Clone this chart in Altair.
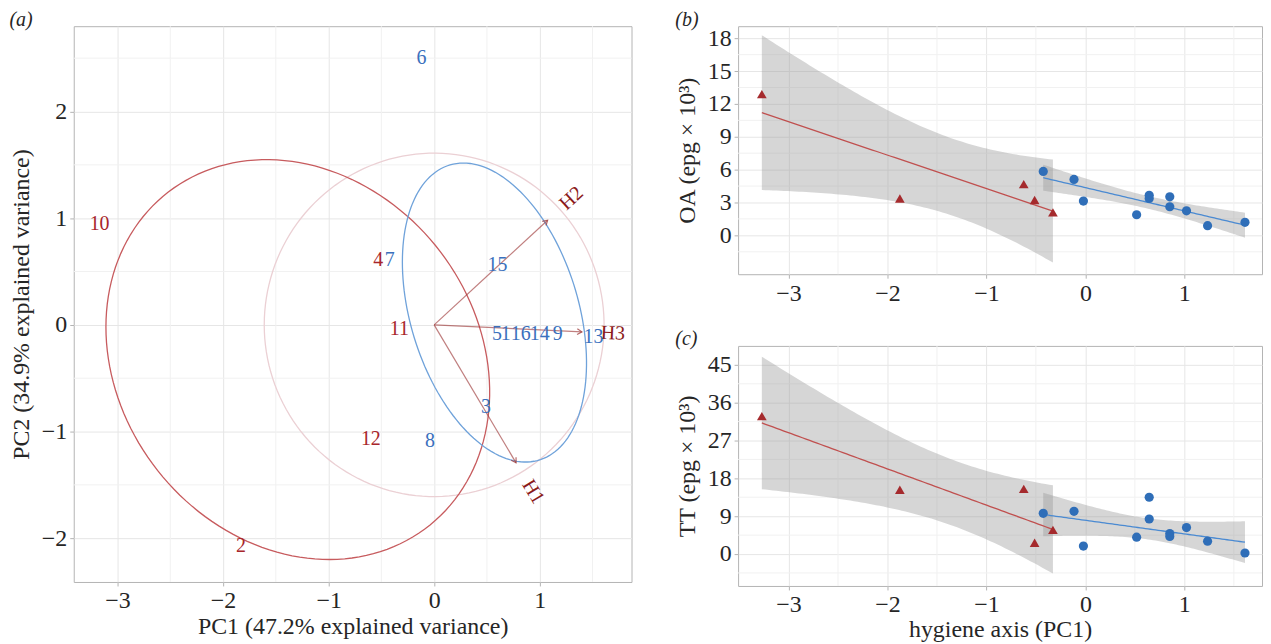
import numpy as np
import pandas as pd
import altair as alt

# ---------------- data: panel (a) PCA biplot ----------------
obs_id = ["10", "2", "4", "12", "11",
          "6", "7", "8", "3", "15", "5", "1", "16", "14", "9", "13"]
obs_group = ["red"] * 5 + ["blue"] * 11
obs_pc1 = [-3.17, -1.83, -0.53, -0.60, -0.33,
           -0.12, -0.42, -0.04, 0.49, 0.60, 0.594, 0.679, 0.821, 1.00, 1.17, 1.51]
obs_pc2 = [0.944, -2.07, 0.61, -1.07, -0.04,
           2.50, 0.61, -1.09, -0.77, 0.56, -0.085, -0.085, -0.085, -0.085, -0.085, -0.11]

var_name = ["H1", "H2", "H3"]
var_pc1 = [0.776, 1.075, 1.40]
var_pc2 = [-1.293, 0.981, -0.065]

circle_radius = 1.61
ellipse_prob = 0.68
label_stretch = 1.21

# ---------------- data: panels (b) and (c) ----------------
hyg_red = [-3.27, -1.875, -0.623, -0.513, -0.328]
oa_red = [12.9, 3.37, 4.68, 3.22, 2.10]
tt_red = [32.8, 15.3, 15.5, 2.67, 5.74]
hyg_blue = [-0.426, -0.115, -0.02, 0.518, 0.645, 0.645, 0.853, 0.853, 1.022, 1.235, 1.613]
oa_blue = [5.84, 5.11, 3.13, 1.88, 3.65, 3.37, 3.52, 2.61, 2.24, 0.88, 1.19]
tt_blue = [9.68, 10.15, 1.89, 4.0, 13.5, 8.33, 4.87, 4.16, 6.29, 3.06, 0.24]

T975 = {3: 3.182446, 9: 2.262157}

# ---------------- styling ----------------
FONT = "Liberation Serif"
TXT = "#262626"
RED_T, BLUE_T = "#A8262B", "#3A70BD"
RED_E, BLUE_E, PINK = "#C75B5E", "#6FA2DA", "#EBD0D4"
RED_P, BLUE_P = "#A52A2D", "#2F6EB8"
RED_L, BLUE_L = "#C0504F", "#4A8AD2"
MINOR = "#F1F1F1"
AX_FS = 24


def axis(values, tpad):
    return alt.Axis(values=values, grid=True, gridColor="#E6E6E6", gridWidth=1,
                    domain=False, ticks=True, tickColor="#B3B3B3", tickSize=4, tickWidth=1,
                    labelFont=FONT, labelFontSize=AX_FS, labelColor=TXT, labelPadding=3,
                    titleFont=FONT, titleFontSize=AX_FS, titleFontWeight="normal",
                    titleColor=TXT, titlePadding=tpad)


def ptitle(t):
    return alt.TitleParams(t, anchor="start", frame="bounds", font=FONT, fontSize=20,
                           fontStyle="italic", fontWeight="normal", color=TXT,
                           offset=-4)


# ================= panel (a) =================
xa_s = alt.Scale(domain=[-3.415, 1.87], nice=False, zero=False)
ya_s = alt.Scale(domain=[-2.41, 2.80], nice=False, zero=False)
xa_ax = axis([-3, -2, -1, 0, 1], 2)
ya_ax = axis([-2, -1, 0, 1, 2], 8)
XA_T = "PC1 (47.2% explained variance)"
YA_T = "PC2 (34.9% explained variance)"


def XA(f):
    return alt.X(f"{f}:Q", scale=xa_s, axis=xa_ax, title=XA_T)


def YA(f):
    return alt.Y(f"{f}:Q", scale=ya_s, axis=ya_ax, title=YA_T)


df_obs = pd.DataFrame({"id": obs_id, "g": obs_group, "x": obs_pc1, "y": obs_pc2})
df_var = pd.DataFrame({"name": var_name, "x": var_pc1, "y": var_pc2})

r_chi = np.sqrt(-2 * np.log(1 - ellipse_prob))
th = np.linspace(-np.pi, np.pi, 160)
circ = np.column_stack([np.cos(th), np.sin(th)])
rows = []
for g in ["red", "blue"]:
    pts = df_obs[df_obs.g == g][["x", "y"]].to_numpy()
    mu = pts.mean(axis=0)
    L = np.linalg.cholesky(np.cov(pts.T))
    ell = r_chi * circ @ L.T + mu
    for i, (ex, ey) in enumerate(ell):
        rows.append({"g": g, "i": i, "x": ex, "y": ey})
df_ell = pd.DataFrame(rows)
df_circ = pd.DataFrame({"i": np.arange(len(th)),
                        "x": circle_radius * np.cos(th),
                        "y": circle_radius * np.sin(th)})

minor_xa = pd.DataFrame({"x": [-2.5, -1.5, -0.5, 0.5, 1.5]})
minor_ya = pd.DataFrame({"y": [-1.5, -0.5, 0.5, 1.5, 2.5]})

a_mx = alt.Chart(minor_xa).mark_rule(color=MINOR, strokeWidth=1).encode(x=XA("x"))
a_my = alt.Chart(minor_ya).mark_rule(color=MINOR, strokeWidth=1).encode(y=YA("y"))
a_circ = alt.Chart(df_circ).mark_line(color=PINK, strokeWidth=1.3).encode(
    x=XA("x"), y=YA("y"), order="i:Q")
a_ell = alt.Chart(df_ell).mark_line(strokeWidth=1.3).encode(
    x=XA("x"), y=YA("y"), order="i:Q", detail="g:N",
    color=alt.Color("g:N", scale=alt.Scale(domain=["red", "blue"], range=[RED_E, BLUE_E]),
                    legend=None))
ang_expr = "(atan2(-datum.y, datum.x) * 180 / PI + 360) % 360"
a_arrow = alt.Chart(df_var).transform_calculate(x0="0", y0="0").mark_rule(
    color="#9E3A3A", opacity=0.65, strokeWidth=1.2).encode(
    x=XA("x0"), y=YA("y0"), x2="x:Q", y2="y:Q")
a_head = alt.Chart(df_var).transform_calculate(ang=ang_expr).mark_point(
    shape="M-1,-0.6L0,0L-1,0.6", filled=False, size=90, color="#9E3A3A",
    opacity=0.75, strokeWidth=1.2).encode(
    x=XA("x"), y=YA("y"), angle=alt.Angle("ang:Q", scale=None))
a_vlab = alt.Chart(df_var).transform_calculate(
    lx=f"datum.x * {label_stretch}", ly=f"datum.y * {label_stretch}", ang=ang_expr
).mark_text(font=FONT, fontSize=20, color="#8B1A1A", align="center", baseline="middle").encode(
    x=XA("lx"), y=YA("ly"), text="name:N", angle=alt.Angle("ang:Q", scale=None))
a_lab = alt.Chart(df_obs).mark_text(font=FONT, fontSize=20, align="center",
                                    baseline="middle").encode(
    x=XA("x"), y=YA("y"), text="id:N",
    color=alt.Color("g:N", scale=alt.Scale(domain=["red", "blue"], range=[RED_T, BLUE_T]),
                    legend=None))

panel_a = alt.layer(a_mx, a_my, a_circ, a_ell, a_arrow, a_head, a_vlab, a_lab).resolve_scale(
    color="independent").properties(width=560, height=558, title=ptitle("(a)"))


# ================= panels (b), (c) =================
def reg_band(x, y, n_out=80):
    x = np.asarray(x, float)
    y = np.asarray(y, float)
    n = len(x)
    xm = x.mean()
    sxx = ((x - xm) ** 2).sum()
    b = ((x - xm) * (y - y.mean())).sum() / sxx
    a = y.mean() - b * xm
    s = np.sqrt(((y - (a + b * x)) ** 2).sum() / (n - 2))
    xs = np.linspace(x.min(), x.max(), n_out)
    fit = a + b * xs
    se = s * np.sqrt(1 / n + (xs - xm) ** 2 / sxx)
    t = T975.get(n - 2, 1.96)
    return xs, fit, fit - t * se, fit + t * se


xr_s_dom = [-3.51, 1.785]
minor_xr = pd.DataFrame({"x": [-2.5, -1.5, -0.5, 0.5, 1.5]})


def right_panel(yr, yb, ydom, yvals, yminor, ytitle, xtitle, height, tlabel):
    xs_ = alt.Scale(domain=xr_s_dom, nice=False, zero=False)
    ys_ = alt.Scale(domain=ydom, nice=False, zero=False)
    xax = axis([-3, -2, -1, 0, 1], 1)
    yax = axis(yvals, 8)

    def XX(f):
        return alt.X(f"{f}:Q", scale=xs_, axis=xax, title=xtitle)

    def YY(f):
        return alt.Y(f"{f}:Q", scale=ys_, axis=yax, title=ytitle)

    pts = pd.DataFrame({"x": hyg_red + hyg_blue, "y": yr + yb,
                        "g": ["red"] * len(hyg_red) + ["blue"] * len(hyg_blue)})
    bands = []
    for g, xv, yv in [("red", hyg_red, yr), ("blue", hyg_blue, yb)]:
        xs, fit, lo, hi = reg_band(xv, yv)
        bands.append(pd.DataFrame({"g": g, "x": xs, "fit": fit, "lo": lo, "hi": hi}))
    dfb = pd.concat(bands, ignore_index=True)

    mx = alt.Chart(minor_xr).mark_rule(color=MINOR, strokeWidth=1).encode(x=XX("x"))
    my = alt.Chart(pd.DataFrame({"y": yminor})).mark_rule(color=MINOR, strokeWidth=1).encode(
        y=YY("y"))
    band = alt.Chart(dfb).mark_area(color="#999999", opacity=0.4).encode(
        x=XX("x"), y=YY("lo"), y2="hi:Q", detail="g:N")
    line = alt.Chart(dfb).mark_line(strokeWidth=1.3).encode(
        x=XX("x"), y=YY("fit"), detail="g:N",
        color=alt.Color("g:N", scale=alt.Scale(domain=["red", "blue"], range=[RED_L, BLUE_L]),
                        legend=None))
    pnt = alt.Chart(pts).mark_point(filled=True, opacity=1).encode(
        x=XX("x"), y=YY("y"),
        color=alt.Color("g:N", scale=alt.Scale(domain=["red", "blue"], range=[RED_P, BLUE_P]),
                        legend=None),
        shape=alt.Shape("g:N", scale=alt.Scale(domain=["red", "blue"],
                                               range=["triangle-up", "circle"]), legend=None),
        size=alt.Size("g:N", scale=alt.Scale(domain=["red", "blue"], range=[95, 85]),
                      legend=None))
    return alt.layer(mx, my, band, line, pnt).resolve_scale(color="independent").properties(
        width=526, height=height, title=ptitle(tlabel))


panel_b = right_panel(oa_red, oa_blue, [-3.55, 19.1], [0, 3, 6, 9, 12, 15, 18],
                      [-1.5, 1.5, 4.5, 7.5, 10.5, 13.5, 16.5], "OA (epg × 10³)", None, 249, "(b)")
panel_c = right_panel(tt_red, tt_blue, [-7.6, 49.5], [0, 9, 18, 27, 36, 45],
                      [-4.5, 4.5, 13.5, 22.5, 31.5, 40.5], "TT (epg × 10³)",
                      "hygiene axis (PC1)", 241, "(c)")

right = alt.vconcat(panel_b, panel_c, spacing=23)
chart = alt.hconcat(panel_a, right, spacing=42).properties(
    padding={"left": 0, "top": 0, "right": 0, "bottom": 0}
).configure_view(stroke="#B3B3B3", strokeWidth=1)

chart.save("out.html", embed_options={"renderer": "svg", "actions": False})
